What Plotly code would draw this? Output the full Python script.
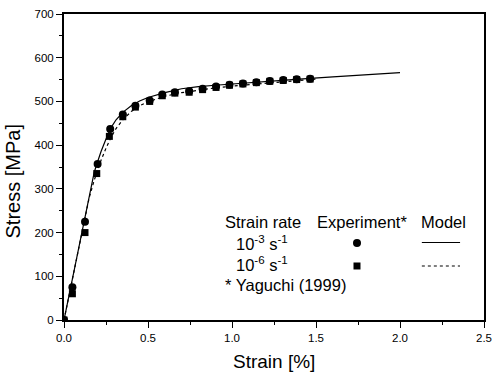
import plotly.graph_objects as go

# Experimental data (Yaguchi 1999)
exp_fast_strain = [0, 0.05, 0.125, 0.20, 0.275, 0.35, 0.425, 0.51, 0.585, 0.66, 0.745, 0.825, 0.905, 0.985, 1.065, 1.145, 1.225, 1.305, 1.385, 1.465]
exp_fast_stress = [0, 75, 225, 357, 437, 470, 490, 502, 516, 521, 523, 529, 534, 538, 541, 544, 547, 549, 551, 552]
exp_slow_strain = [0, 0.05, 0.125, 0.195, 0.27, 0.35, 0.425, 0.51, 0.585, 0.66, 0.745, 0.825, 0.905, 0.985, 1.065, 1.145, 1.225, 1.305, 1.385, 1.465]
exp_slow_stress = [0, 60, 200, 335, 420, 465, 487, 500, 513, 519, 521, 527, 532, 537, 540, 543, 546, 548, 550, 551]

# Model curves
model_fast_strain = [0, 0.15, 0.18, 0.20, 0.22, 0.25, 0.28, 0.31, 0.35, 0.40, 0.45, 0.50, 0.55, 0.60, 0.70, 0.80, 0.90, 1.0, 1.2, 1.4, 1.6, 1.8, 2.0]
model_fast_stress = [0, 288, 338, 362, 385, 414, 440, 458, 475, 490, 501, 509, 515, 520, 529, 534, 537, 540, 546, 551, 556, 561, 566]
model_slow_strain = [0, 0.15, 0.18, 0.20, 0.22, 0.25, 0.28, 0.31, 0.35, 0.40, 0.45, 0.50, 0.60, 0.70, 0.80, 0.90, 1.0, 1.2, 1.4, 1.5]
model_slow_stress = [0, 280, 320, 345, 365, 393, 418, 438, 458, 477, 490, 499, 512, 520, 526, 531, 535, 542, 548, 551]

x_ticks = [0.0, 0.5, 1.0, 1.5, 2.0, 2.5]
y_ticks = [0, 100, 200, 300, 400, 500, 600, 700]

FONT = "Liberation Sans, Arial, sans-serif"

fig = go.Figure()
fig.add_trace(go.Scatter(x=model_fast_strain, y=model_fast_stress, mode="lines",
                         line=dict(color="black", width=1.2), showlegend=False))
fig.add_trace(go.Scatter(x=model_slow_strain, y=model_slow_stress, mode="lines",
                         line=dict(color="black", width=1.2, dash="dot"), showlegend=False))
fig.add_trace(go.Scatter(x=exp_slow_strain, y=exp_slow_stress, mode="markers",
                         marker=dict(symbol="square", size=7, color="black"), showlegend=False))
fig.add_trace(go.Scatter(x=exp_fast_strain, y=exp_fast_stress, mode="markers",
                         marker=dict(symbol="circle", size=8, color="black"), showlegend=False))

axis_common = dict(showgrid=False, zeroline=False, showline=True, linecolor="black",
                   linewidth=2, mirror=True, ticks="outside", ticklen=6, tickwidth=1.2,
                   tickcolor="black", tickfont=dict(family=FONT, size=11.5, color="black"),
                   automargin=False)

fig.update_xaxes(range=[0, 2.5], tickvals=x_ticks, ticktext=[f"{v:.1f}" for v in x_ticks],
                 minor=dict(ticks="outside", ticklen=3, tickvals=[0.25, 0.75, 1.25, 1.75, 2.25], tickcolor="black"),
                 **axis_common)
fig.update_yaxes(range=[0, 700], tickvals=y_ticks,
                 minor=dict(ticks="outside", ticklen=3, tickvals=[50, 150, 250, 350, 450, 550, 650], tickcolor="black"),
                 **axis_common)

# axis titles
fig.add_annotation(text="Strain [%]", x=0.5, y=-0.137, xref="paper", yref="paper",
                   xanchor="center", yanchor="middle", showarrow=False,
                   font=dict(family=FONT, size=19, color="black"))
fig.add_annotation(text="Stress [MPa]", x=0, y=0.4526, xref="paper", yref="paper",
                   xanchor="center", yanchor="middle", xshift=-51, textangle=-90, showarrow=False,
                   font=dict(family=FONT, size=20, color="black"))

tf = dict(family=FONT, size=16.5, color="black")
ann = [
    ("Strain rate", 0.378, 0.320),
    ("Experiment*", 0.598, 0.320),
    ("Model", 0.845, 0.320),
    ("10<sup>-3</sup> s<sup>-1</sup>", 0.405, 0.2516),
    ("10<sup>-6</sup> s<sup>-1</sup>", 0.405, 0.183),
    ("* Yaguchi (1999)", 0.378, 0.114),
]
for t, x, y in ann:
    fig.add_annotation(text=t, x=x, y=y, xref="paper", yref="paper", xanchor="left",
                       yanchor="middle", showarrow=False, font=tf)

# legend symbols
cx, cy = 0.6976, 0.2516
rx, ry = 4 / 420, 4 / 306
fig.add_shape(type="circle", xref="paper", yref="paper", x0=cx - rx, x1=cx + rx, y0=cy - ry, y1=cy + ry,
              fillcolor="black", line=dict(color="black", width=0))
sy = 0.1765
sx, ssy = 3.5 / 420, 3.5 / 306
fig.add_shape(type="rect", xref="paper", yref="paper", x0=cx - sx, x1=cx + sx, y0=sy - ssy, y1=sy + ssy,
              fillcolor="black", line=dict(color="black", width=0))
fig.add_shape(type="line", xref="paper", yref="paper", x0=0.852, x1=0.943, y0=0.2533, y1=0.2533,
              line=dict(color="black", width=1.2))
fig.add_shape(type="line", xref="paper", yref="paper", x0=0.852, x1=0.943, y0=0.1765, y1=0.1765,
              line=dict(color="black", width=1.2, dash="dot"))

fig.update_layout(width=494, height=372, margin=dict(l=64, r=10, t=14, b=52),
                  plot_bgcolor="white", paper_bgcolor="white", showlegend=False)

fig.write_html("out.html")
